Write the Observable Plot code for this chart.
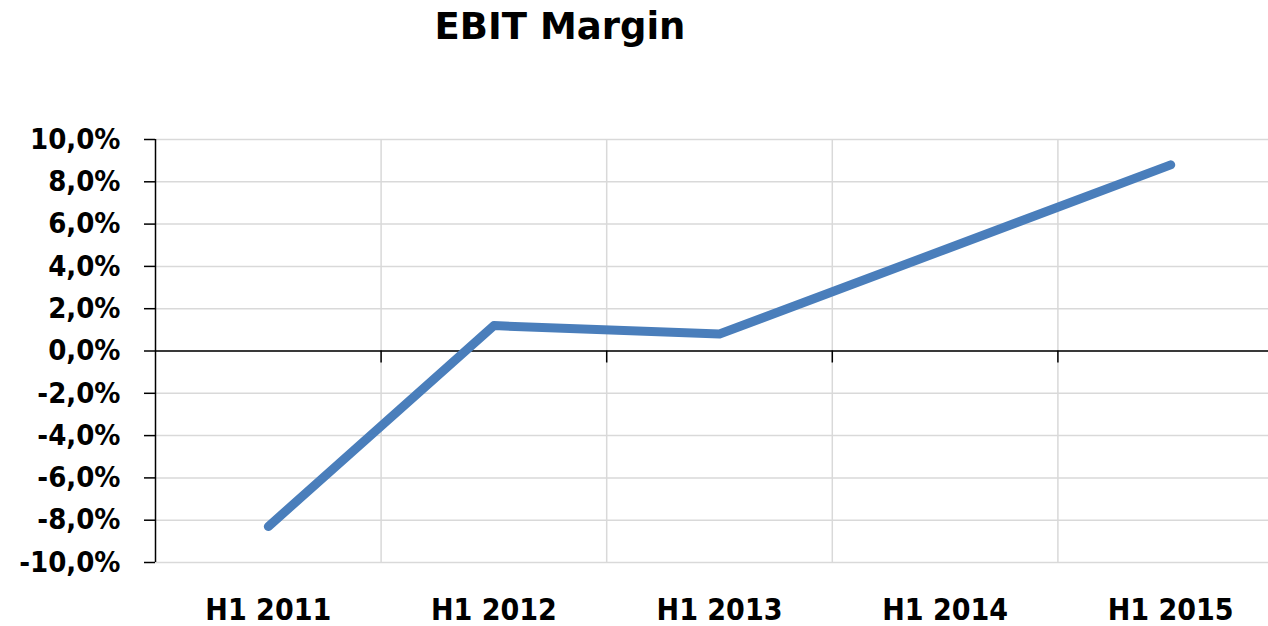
<!DOCTYPE html>
<html><head><meta charset="utf-8">
<script src="https://cdn.jsdelivr.net/npm/d3@7"></script>
<script src="https://cdn.jsdelivr.net/npm/@observablehq/plot@0.6"></script>
<style>
html,body{margin:0;padding:0;background:#fff;}
#wrap{position:relative;width:1268px;height:626px;overflow:hidden;}
#title{position:absolute;left:560px;top:8px;transform:translateX(-50%);font-family:"DejaVu Sans";font-weight:bold;font-size:37px;line-height:37px;white-space:nowrap;color:#000;}
#chart{position:absolute;left:0;top:0;}
</style></head><body>
<div id="wrap"><div id="chart"></div><div id="title"></div></div>
<script>
const title = "EBIT Margin";
const categories = ["H1 2011", "H1 2012", "H1 2013", "H1 2014", "H1 2015"];
const ebitMargin = [-8.3, 1.2, 0.8, 4.8, 8.8];
const yTicks = [-10, -8, -6, -4, -2, 0, 2, 4, 6, 8, 10];

const rows = categories.map((c, i) => ({category: c, pos: i + 0.5, value: ebitMargin[i]}));
const centers = categories.map((c, i) => i + 0.5);
const bounds = d3.range(1, categories.length);
const fmt = d => d.toFixed(1).replace(".", ",") + "%";
const font = "'DejaVu Sans Condensed', 'DejaVu Sans', sans-serif";

document.getElementById("title").textContent = title;

const chart = Plot.plot({
  width: 1268, height: 626,
  marginTop: 139, marginBottom: 64, marginLeft: 155, marginRight: 0,
  style: {background: "#fff", fontFamily: font, color: "#000", overflow: "hidden"},
  x: {type: "linear", domain: [0, categories.length], range: [155, 1283]},
  y: {domain: [-10, 10]},
  marks: [
    Plot.ruleY(yTicks, {stroke: "#d9d9d9", strokeWidth: 1.5}),
    Plot.ruleX(bounds, {y1: -10, y2: 10, stroke: "#d9d9d9", strokeWidth: 1.5}),
    Plot.ruleY([0], {stroke: "#000", strokeWidth: 1.5}),
    Plot.ruleX(bounds, {y1: 0, y2: 0, insetBottom: -12, stroke: "#000", strokeWidth: 1.5}),
    Plot.ruleX([0], {y1: -10, y2: 10, stroke: "#000", strokeWidth: 1.5}),
    Plot.axisY({ticks: yTicks, tickFormat: fmt, tickSize: 11, tickPadding: 24, fontSize: 29, fontWeight: "bold", stroke: "#000", strokeWidth: 1.5, label: null}),
    Plot.axisX({ticks: centers, tickFormat: d => categories[Math.round(d - 0.5)], tickSize: 0, tickPadding: 36, fontSize: 30, fontWeight: "bold", label: null}),
    Plot.line(rows, {x: "pos", y: "value", stroke: "#4a7ebb", strokeWidth: 9, strokeLinecap: "round", strokeLinejoin: "round"})
  ]
});
document.getElementById("chart").appendChild(chart);
</script>
</body></html>
